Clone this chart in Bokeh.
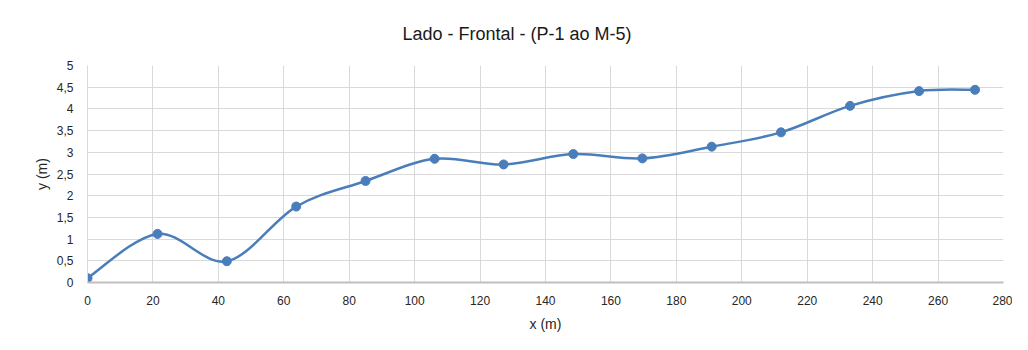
import numpy as np
from bokeh.plotting import figure
from bokeh.models import FixedTicker, Range1d, ColumnDataSource
from bokeh.embed import file_html
from bokeh.resources import INLINE

# Data
x_m = [0, 21.4, 42.6, 63.8, 85.0, 106.1, 127.2, 148.5, 169.6, 190.8, 212.0, 233.1, 254.2, 271.3]
y_m = [0.10, 1.12, 0.49, 1.75, 2.34, 2.85, 2.72, 2.96, 2.86, 3.13, 3.46, 4.07, 4.41, 4.44]
x_ticks = [0, 20, 40, 60, 80, 100, 120, 140, 160, 180, 200, 220, 240, 260, 280]
y_ticks = [0, 0.5, 1, 1.5, 2, 2.5, 3, 3.5, 4, 4.5, 5]
y_labels = ["0", "0,5", "1", "1,5", "2", "2,5", "3", "3,5", "4", "4,5", "5"]

FONT = "Liberation Sans"
BLUE = "#4a7ebb"

p = figure(width=1012, height=334, output_backend="svg", toolbar_location=None,
           x_range=Range1d(0, 280), y_range=Range1d(0, 5),
           min_border_left=87, min_border_right=9, min_border_top=65, min_border_bottom=51)

p.title.text = "Lado - Frontal - (P-1 ao M-5)"
p.title.align = "left"
p.title.offset = 315
p.title.vertical_align = "middle"
p.title.text_font = FONT
p.title.text_font_size = "18px"
p.title.text_font_style = "normal"
p.title.text_color = "#1a1a1a"
p.title.standoff = 42

p.outline_line_color = None
p.background_fill_color = "white"
p.border_fill_color = "white"

p.xaxis.ticker = FixedTicker(ticks=x_ticks)
p.yaxis.ticker = FixedTicker(ticks=y_ticks)
p.yaxis.major_label_overrides = {t: l for t, l in zip(y_ticks, y_labels)}
for ax in (p.xaxis, p.yaxis):
    ax.major_tick_line_color = None
    ax.minor_tick_line_color = None
    ax.major_label_text_font = FONT
    ax.major_label_text_font_size = "12px"
    ax.major_label_text_color = "#262626"
    ax.axis_label_text_font = FONT
    ax.axis_label_text_font_size = "14px"
    ax.axis_label_text_font_style = "normal"
    ax.axis_label_text_color = "#262626"
p.xaxis.axis_label = "x (m)"
p.yaxis.axis_label = "y (m)"
p.xaxis.axis_line_color = "#bfbfbf"
p.xaxis.axis_line_width = 2
p.yaxis.axis_line_color = "#d9d9d9"
p.yaxis.axis_line_width = 1
p.xaxis.major_label_standoff = 7
p.yaxis.major_label_standoff = 8
p.xaxis.axis_label_standoff = 8
p.yaxis.axis_label_standoff = 4

p.xgrid.grid_line_color = "#d9d9d9"
p.ygrid.grid_line_color = "#d9d9d9"
p.xgrid.ticker = FixedTicker(ticks=x_ticks)
p.ygrid.ticker = FixedTicker(ticks=y_ticks)

# Smoothed line (Catmull-Rom style Bezier segments between the data points)
xs = np.array(x_m, dtype=float)
ys = np.array(y_m, dtype=float)
n = len(xs)
xp = np.concatenate([[xs[0]], xs, [xs[-1]]])
yp = np.concatenate([[ys[0]], ys, [ys[-1]]])
seg = dict(x0=[], y0=[], x1=[], y1=[], cx0=[], cy0=[], cx1=[], cy1=[])
for i in range(n - 1):
    j = i + 1
    seg["x0"].append(xs[i]); seg["y0"].append(ys[i])
    seg["x1"].append(xs[i + 1]); seg["y1"].append(ys[i + 1])
    seg["cx0"].append(xs[i] + (xp[j + 1] - xp[j - 1]) / 6)
    seg["cy0"].append(ys[i] + (yp[j + 1] - yp[j - 1]) / 6)
    seg["cx1"].append(xs[i + 1] - (xp[j + 2] - xp[j]) / 6)
    seg["cy1"].append(ys[i + 1] - (yp[j + 2] - yp[j]) / 6)
p.bezier(x0="x0", y0="y0", x1="x1", y1="y1", cx0="cx0", cy0="cy0", cx1="cx1", cy1="cy1",
         source=ColumnDataSource(seg), line_color=BLUE, line_width=2.5)
p.scatter(x_m, y_m, size=9, color=BLUE)

open("out.html", "w").write(file_html(p, INLINE))
